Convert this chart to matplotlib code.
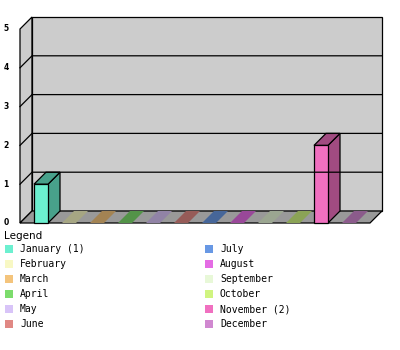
import matplotlib
matplotlib.use("Agg")
import matplotlib.pyplot as plt
from matplotlib.patches import Polygon, Rectangle
from matplotlib.colors import to_rgb

# Data
months = ["January", "February", "March", "April", "May", "June",
          "July", "August", "September", "October", "November", "December"]
counts = [1, 0, 0, 0, 0, 0, 0, 0, 0, 0, 2, 0]
colors = ["#6cf0d0", "#f8f8c4", "#f4c47c", "#7cdc6c", "#d8c4f8", "#e08884",
          "#6898e4", "#e46ce4", "#e8f8d8", "#d0f480", "#f070c0", "#d088d0"]
y_ticks = [0, 1, 2, 3, 4, 5]

LW = 0.9
WALL = "#cccccc"
FLOOR = "#999999"


def shade(c, f=0.67):
    r, g, b = to_rgb(c)
    return (r * f, g * f, b * f)


fig = plt.figure(figsize=(4, 3.5), dpi=100)

# main axes: one category = 28 px, one unit = 38.8 px
ax = fig.add_axes([0, 0, 1, 1])
ax.set_xlim(-41 / 28, 359 / 28)
ax.set_ylim(-127 / 38.8, 223 / 38.8)
ax.axis("off")

n = len(months)
ymax = max(y_ticks)
dx, dy = 12 / 28, 12 / 38.8
bw = 0.5
x0, x1 = -0.75, n - 1 + 0.75

# left wall
ax.add_patch(Polygon([(x0, 0), (x0 + dx, dy), (x0 + dx, ymax + dy), (x0, ymax)],
                     closed=True, facecolor=WALL, edgecolor="black", lw=LW))
# back wall
ax.add_patch(Rectangle((x0 + dx, dy), x1 - x0, ymax, facecolor=WALL,
                       edgecolor="black", lw=LW))
# grid lines
for v in y_ticks[1:-1]:
    ax.plot([x0, x0 + dx, x1 + dx], [v, v + dy, v + dy], color="black", lw=LW)
# floor
ax.add_patch(Polygon([(x0, 0), (x1, 0), (x1 + dx, dy), (x0 + dx, dy)],
                     closed=True, facecolor=FLOOR, edgecolor="black", lw=LW))

# bars
for i, (v, c) in enumerate(zip(counts, colors)):
    l, r = i - bw / 2, i + bw / 2
    if v > 0:
        ax.add_patch(Polygon([(r, 0), (r + dx, dy), (r + dx, v + dy), (r, v)],
                             closed=True, facecolor=shade(c), edgecolor="black", lw=LW))
        ax.add_patch(Polygon([(l, v), (r, v), (r + dx, v + dy), (l + dx, v + dy)],
                             closed=True, facecolor=shade(c), edgecolor="black", lw=LW))
        ax.add_patch(Rectangle((l, 0), bw, v, facecolor=c, edgecolor="black", lw=LW))
    else:
        ax.add_patch(Polygon([(l, 0), (r, 0), (r + dx, dy), (l + dx, dy)],
                             closed=True, facecolor=shade(c), edgecolor="none"))

# y tick labels
for v in y_ticks:
    ax.text(-1.25, v, str(v), fontsize=5.5, family="DejaVu Sans", fontweight="bold",
            ha="center", va="center")

# legend (pixel coordinates overlay)
lg = fig.add_axes([0, 0, 1, 1])
lg.set_xlim(0, 400)
lg.set_ylim(350, 0)
lg.axis("off")
lg.patch.set_alpha(0)
lg.text(4, 236, "Legend", fontsize=7.5, family="DejaVu Sans", va="center", ha="left")
for i, (m, v, c) in enumerate(zip(months, counts, colors)):
    col, row = divmod(i, 6)
    xs = 5 + 200 * col
    ys = 249 + 15 * row
    label = f"{m} ({v})" if v > 0 else m
    lg.add_patch(Rectangle((xs, ys - 4), 8, 8, facecolor=c, edgecolor="none"))
    lg.text(xs + 15, ys, label, fontsize=7, family="DejaVu Sans Mono",
            va="center", ha="left")

fig.savefig("out.png", dpi=100)
